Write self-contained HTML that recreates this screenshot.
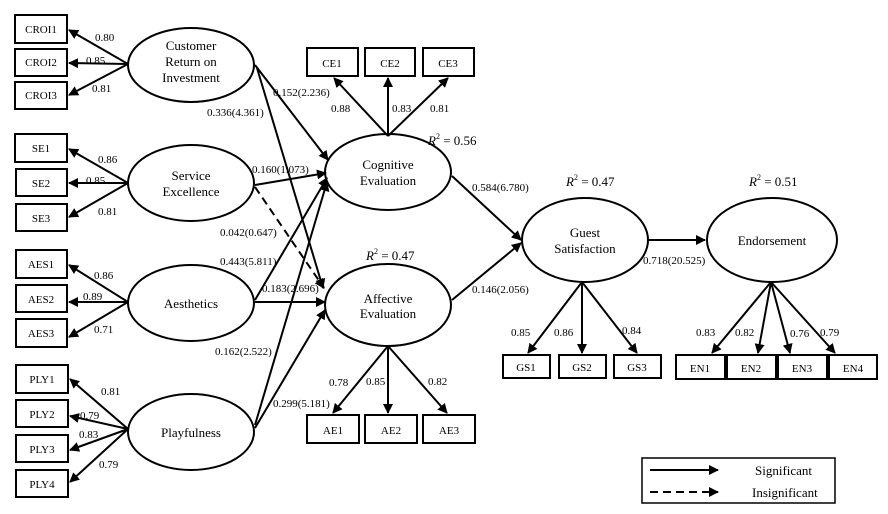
<!DOCTYPE html>
<html><head><meta charset="utf-8"><style>
html,body{margin:0;padding:0;background:#fff;}
svg{display:block;}
text{font-family:"Liberation Serif",serif;fill:#000;}
</style></head><body>
<svg width="888" height="514" viewBox="0 0 888 514" xmlns="http://www.w3.org/2000/svg">
<defs>
<marker id="a" viewBox="0 0 10 10" refX="9" refY="5" markerWidth="5" markerHeight="5" orient="auto-start-reverse" markerUnits="strokeWidth"><path d="M0,0 L10,5 L0,10 z" fill="#000"/></marker>
</defs>
<g stroke="#000" stroke-width="2" fill="none">
<!-- ellipses -->
<ellipse cx="191" cy="65" rx="63" ry="37"/>
<ellipse cx="191" cy="183" rx="63" ry="38"/>
<ellipse cx="191" cy="303" rx="63" ry="38"/>
<ellipse cx="191" cy="432" rx="63" ry="38"/>
<ellipse cx="388" cy="172" rx="63" ry="38"/>
<ellipse cx="388" cy="305" rx="63" ry="41"/>
<ellipse cx="585" cy="240" rx="63" ry="42"/>
<ellipse cx="772" cy="240" rx="65" ry="42"/>
<!-- boxes -->
<rect x="15" y="15" width="52" height="28"/><rect x="15" y="49" width="52" height="27"/><rect x="15" y="82" width="52" height="27"/>
<rect x="15" y="134" width="52" height="28"/><rect x="16" y="169" width="51" height="27"/><rect x="16" y="204" width="51" height="27"/>
<rect x="16" y="250" width="51" height="28"/><rect x="16" y="285" width="51" height="27"/><rect x="16" y="319" width="51" height="28"/>
<rect x="16" y="365" width="52" height="28"/><rect x="16" y="400" width="52" height="27"/><rect x="16" y="435" width="52" height="27"/><rect x="16" y="470" width="52" height="27"/>
<rect x="307" y="48" width="51" height="28"/><rect x="365" y="48" width="50" height="28"/><rect x="423" y="48" width="51" height="28"/>
<rect x="307" y="415" width="52" height="28"/><rect x="365" y="415" width="52" height="28"/><rect x="423" y="415" width="52" height="28"/>
<rect x="503" y="355" width="47" height="23"/><rect x="559" y="355" width="47" height="23"/><rect x="614" y="355" width="47" height="23"/>
<rect x="676" y="355" width="49" height="24"/><rect x="727" y="355" width="49" height="24"/><rect x="778" y="355" width="49" height="24"/><rect x="829" y="355" width="48" height="24"/>
<rect x="642" y="458" width="193" height="45" stroke-width="1.5"/>
</g>
<g stroke="#000" stroke-width="2" fill="none" marker-end="url(#a)">
<!-- loadings -->
<line x1="128" y1="64" x2="69" y2="30"/><line x1="128" y1="64" x2="69" y2="63"/><line x1="128" y1="64" x2="69" y2="95"/>
<line x1="128" y1="183" x2="69" y2="149"/><line x1="128" y1="183" x2="69" y2="183"/><line x1="128" y1="183" x2="69" y2="217"/>
<line x1="128" y1="302" x2="69" y2="265"/><line x1="128" y1="302" x2="69" y2="302"/><line x1="128" y1="302" x2="69" y2="337"/>
<line x1="128" y1="429" x2="70" y2="379"/><line x1="128" y1="429" x2="70" y2="416"/><line x1="128" y1="429" x2="70" y2="450"/><line x1="128" y1="429" x2="70" y2="482"/>
<line x1="388" y1="136" x2="334" y2="78"/><line x1="388" y1="136" x2="388" y2="78"/><line x1="388" y1="136" x2="448" y2="78"/>
<line x1="388" y1="346" x2="333" y2="413"/><line x1="388" y1="346" x2="388" y2="413"/><line x1="388" y1="346" x2="447" y2="413"/>
<line x1="582" y1="282" x2="528" y2="353"/><line x1="582" y1="282" x2="582" y2="353"/><line x1="582" y1="282" x2="637" y2="353"/>
<line x1="771" y1="282" x2="712" y2="353"/><line x1="771" y1="282" x2="758" y2="353"/><line x1="771" y1="282" x2="790" y2="353"/><line x1="771" y1="282" x2="835" y2="353"/>
<!-- structural -->
<line x1="255" y1="65" x2="328" y2="160"/>
<line x1="257" y1="68" x2="323" y2="288"/>
<line x1="255" y1="185" x2="326" y2="173"/>
<line x1="255" y1="300" x2="327" y2="178"/>
<line x1="255" y1="302" x2="325" y2="302"/>
<line x1="255" y1="425" x2="327" y2="182"/>
<line x1="255" y1="428" x2="325" y2="310"/>
<line x1="452" y1="176" x2="521" y2="240"/>
<line x1="452" y1="300" x2="521" y2="243"/>
<line x1="648" y1="240" x2="705" y2="240"/>
<line x1="255" y1="187" x2="324" y2="288" stroke-dasharray="8,5"/>
<line x1="650" y1="470" x2="718" y2="470"/>
<line x1="650" y1="492" x2="718" y2="492" stroke-dasharray="8,5"/>
</g>
<g font-size="13" text-anchor="middle">
<text x="191" y="50">Customer</text><text x="191" y="66">Return on</text><text x="191" y="82">Investment</text>
<text x="191" y="180">Service</text><text x="191" y="196">Excellence</text>
<text x="191" y="308">Aesthetics</text>
<text x="191" y="437">Playfulness</text>
<text x="388" y="177" dy="-8">Cognitive</text><text x="388" y="185">Evaluation</text>
<text x="388" y="303">Affective</text><text x="388" y="318">Evaluation</text>
<text x="585" y="237">Guest</text><text x="585" y="253">Satisfaction</text>
<text x="772" y="245">Endorsement</text>
</g>
<g font-size="11" text-anchor="middle">
<text x="41" y="33">CROI1</text><text x="41" y="66">CROI2</text><text x="41" y="99">CROI3</text>
<text x="41" y="152">SE1</text><text x="41" y="187">SE2</text><text x="41" y="222">SE3</text>
<text x="41" y="268">AES1</text><text x="41" y="303">AES2</text><text x="41" y="337">AES3</text>
<text x="42" y="383">PLY1</text><text x="42" y="418">PLY2</text><text x="42" y="453">PLY3</text><text x="42" y="488">PLY4</text>
<text x="332" y="67">CE1</text><text x="390" y="67">CE2</text><text x="448" y="67">CE3</text>
<text x="333" y="434">AE1</text><text x="391" y="434">AE2</text><text x="449" y="434">AE3</text>
<text x="526" y="371">GS1</text><text x="582" y="371">GS2</text><text x="637" y="371">GS3</text>
<text x="700" y="372">EN1</text><text x="751" y="372">EN2</text><text x="802" y="372">EN3</text><text x="853" y="372">EN4</text>
</g>
<g font-size="11">
<text x="95" y="41">0.80</text><text x="86" y="64">0.85</text><text x="92" y="92">0.81</text>
<text x="98" y="163">0.86</text><text x="86" y="184">0.85</text><text x="98" y="215">0.81</text>
<text x="94" y="279">0.86</text><text x="83" y="300">0.89</text><text x="94" y="333">0.71</text>
<text x="101" y="395">0.81</text><text x="80" y="419">0.79</text><text x="79" y="438">0.83</text><text x="99" y="468">0.79</text>
<text x="331" y="112">0.88</text><text x="392" y="112">0.83</text><text x="430" y="112">0.81</text>
<text x="329" y="386">0.78</text><text x="366" y="385">0.85</text><text x="428" y="385">0.82</text>
<text x="511" y="336">0.85</text><text x="554" y="336">0.86</text><text x="622" y="334">0.84</text>
<text x="696" y="336">0.83</text><text x="735" y="336">0.82</text><text x="790" y="337">0.76</text><text x="820" y="336">0.79</text>
<text x="273" y="96">0.152(2.236)</text>
<text x="207" y="116">0.336(4.361)</text>
<text x="252" y="173">0.160(1.073)</text>
<text x="220" y="236">0.042(0.647)</text>
<text x="220" y="265">0.443(5.811)</text>
<text x="262" y="292">0.183(2.696)</text>
<text x="215" y="355">0.162(2.522)</text>
<text x="273" y="407">0.299(5.181)</text>
<text x="472" y="191">0.584(6.780)</text>
<text x="472" y="293">0.146(2.056)</text>
<text x="643" y="264">0.718(20.525)</text>
</g>
<g font-size="13">
<text x="428" y="145"><tspan font-style="italic">R</tspan><tspan font-size="8" dy="-6">2</tspan><tspan dy="6"> = 0.56</tspan></text>
<text x="366" y="260"><tspan font-style="italic">R</tspan><tspan font-size="8" dy="-6">2</tspan><tspan dy="6"> = 0.47</tspan></text>
<text x="566" y="186"><tspan font-style="italic">R</tspan><tspan font-size="8" dy="-6">2</tspan><tspan dy="6"> = 0.47</tspan></text>
<text x="749" y="186"><tspan font-style="italic">R</tspan><tspan font-size="8" dy="-6">2</tspan><tspan dy="6"> = 0.51</tspan></text>
<text x="755" y="475">Significant</text>
<text x="752" y="497">Insignificant</text>
</g>
</svg>
</body></html>
